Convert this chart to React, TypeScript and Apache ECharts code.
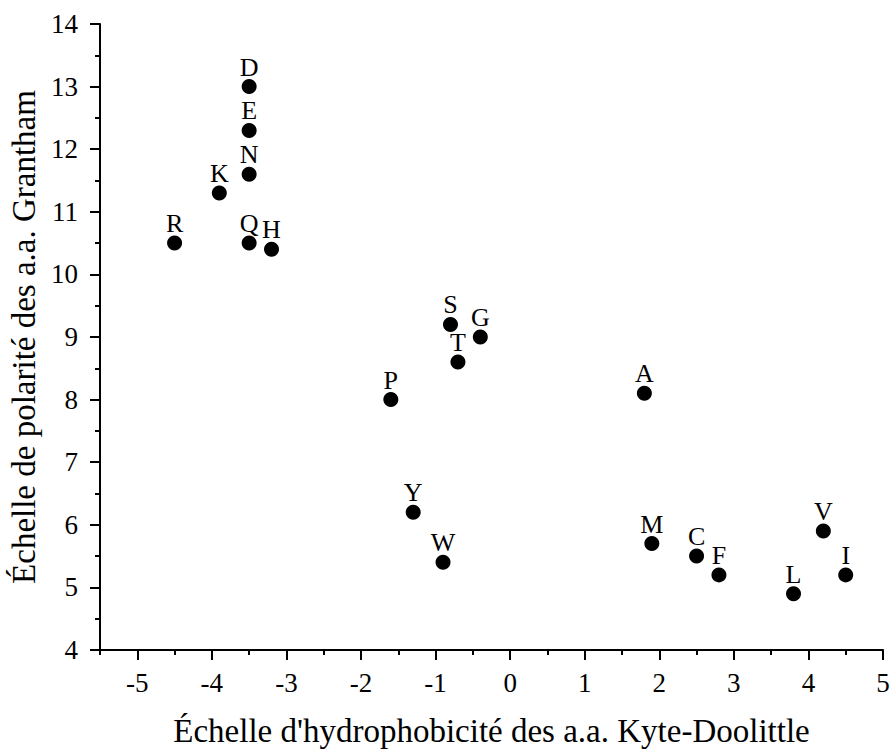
import React, { useEffect, useRef } from "react";
import * as echarts from "echarts";

const aminoAcids = ["A","R","N","D","C","Q","E","G","H","I","L","K","M","F","P","S","T","W","Y","V"];
const hydrophobicity = [1.8,-4.5,-3.5,-3.5,2.5,-3.5,-3.5,-0.4,-3.2,4.5,3.8,-3.9,1.9,2.8,-1.6,-0.8,-0.7,-0.9,-1.3,4.2];
const polarity = [8.1,10.5,11.6,13.0,5.5,10.5,12.3,9.0,10.4,5.2,4.9,11.3,5.7,5.2,8.0,9.2,8.6,5.4,6.2,5.9];

const xMajorTicks = [-5,-4,-3,-2,-1,0,1,2,3,4,5];
const xMinorTicks = [-5.5,-4.5,-3.5,-2.5,-1.5,-0.5,0.5,1.5,2.5,3.5,4.5];

const xTitle = "Échelle d'hydrophobicité des a.a. Kyte-Doolittle";
const yTitle = "Échelle de polarité des a.a. Grantham";

const FONT = "'Liberation Serif', 'Times New Roman', serif";

export default function App() {
  const ref = useRef<HTMLDivElement>(null);
  useEffect(() => {
    if (!ref.current) return;
    const chart = echarts.init(ref.current, null, { renderer: "svg" });
    const data = aminoAcids.map((a, i) => [hydrophobicity[i], polarity[i], a]);
    const lineStyle = { color: "#000", width: 2 };
    chart.setOption({
      animation: false,
      backgroundColor: "#fff",
      grid: {
        left: 100,
        right: 7,
        top: 24,
        bottom: 99,
        containLabel: false,
        outerBoundsMode: "none",
      },
      xAxis: [
        {
          type: "value",
          min: -5.5,
          max: 5,
          axisLine: { show: true, onZero: false, lineStyle },
          axisTick: { show: true, customValues: xMajorTicks, length: 10, lineStyle },
          axisLabel: {
            customValues: xMajorTicks,
            fontSize: 27,
            fontFamily: FONT,
            color: "#000",
            margin: 19,
          },
          splitLine: { show: false },
          name: xTitle,
          nameLocation: "middle",
          nameGap: 64,
          nameTextStyle: { fontSize: 33, fontFamily: FONT, color: "#000" },
        },
        {
          type: "value",
          min: -5.5,
          max: 5,
          position: "bottom",
          axisLine: { show: false, onZero: false },
          axisTick: { show: true, customValues: xMinorTicks, length: 5, lineStyle },
          axisLabel: { show: false },
          splitLine: { show: false },
        },
      ],
      yAxis: {
        type: "value",
        min: 4,
        max: 14,
        interval: 1,
        axisLine: { show: true, onZero: false, lineStyle },
        axisTick: { show: true, length: 10, lineStyle },
        minorTick: { show: true, splitNumber: 2, length: 5, lineStyle },
        axisLabel: { fontSize: 27, fontFamily: FONT, color: "#000", margin: 22 },
        splitLine: { show: false },
        name: yTitle,
        nameLocation: "middle",
        nameGap: 52,
        nameTextStyle: { fontSize: 33, fontFamily: FONT, color: "#000" },
      },
      series: [
        {
          type: "scatter",
          xAxisIndex: 0,
          data,
          symbol: "circle",
          symbolSize: 15,
          itemStyle: { color: "#000", opacity: 1 },
          label: {
            show: true,
            position: "top",
            distance: -1,
            formatter: (p: any) => p.value[2],
            fontSize: 26,
            fontFamily: FONT,
            color: "#000",
          },
        },
      ],
    });
    return () => chart.dispose();
  }, []);
  return (
    <div
      ref={ref}
      style={{ position: "fixed", left: 0, top: 0, width: 890, height: 749 }}
    />
  );
}
